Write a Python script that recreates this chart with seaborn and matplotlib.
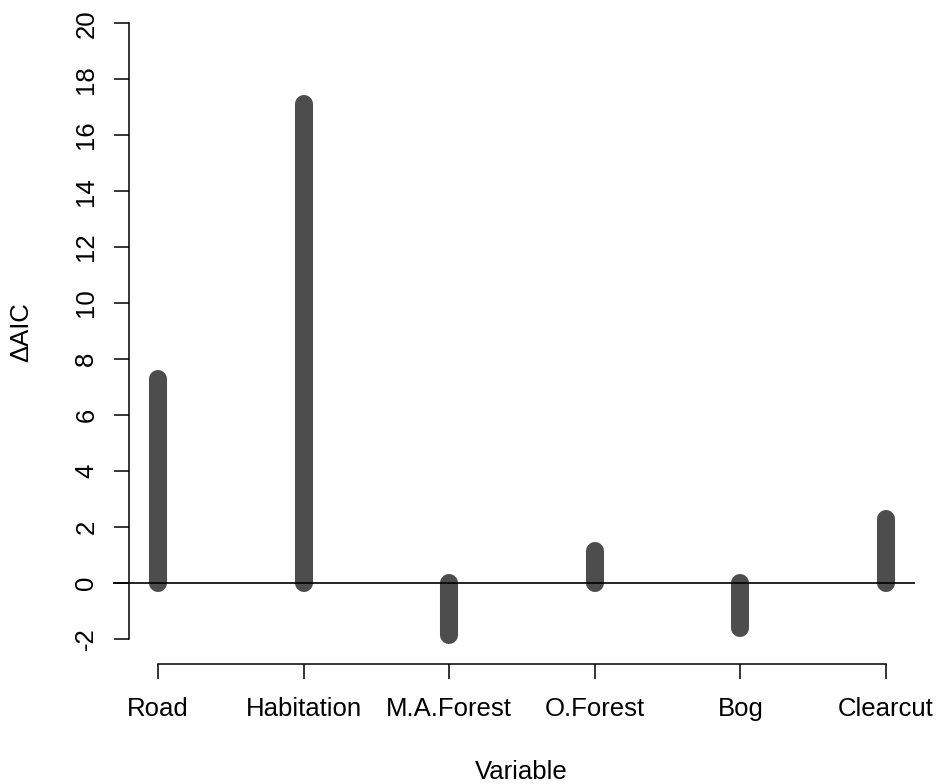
import matplotlib
matplotlib.use("Agg")
import matplotlib.pyplot as plt
import seaborn as sns
import pandas as pd

categories = ["Road", "Habitation", "M.A.Forest", "O.Forest", "Bog", "Clearcut"]
delta_aic = [7.3, 17.1, -1.85, 1.15, -1.6, 2.3]
y_ticks = [-2, 0, 2, 4, 6, 8, 10, 12, 14, 16, 18, 20]

sns.set_style("white")
plt.rcParams['font.family'] = ['Liberation Sans', 'DejaVu Sans']
plt.rcParams['axes.unicode_minus'] = False
plt.rcParams['text.color'] = 'black'
plt.rcParams['axes.labelcolor'] = 'black'

# long-form data: each variable is a vertical segment from 0 to its value
rows = []
for i, (c, v) in enumerate(zip(categories, delta_aic)):
    rows.append({"var": c, "pos": i + 1, "val": 0.0})
    rows.append({"var": c, "pos": i + 1, "val": v})
df = pd.DataFrame(rows)

fig = plt.figure(figsize=(9.38, 7.84), dpi=100)
ax = fig.add_axes([113/938, 1 - 664/784, (915 - 113)/938, 664/784])

sns.lineplot(data=df, x="pos", y="val", units="var", estimator=None,
             color="#4D4D4D", lw=13, solid_capstyle="round", ax=ax,
             legend=False, sort=False)
ax.axhline(0, color="black", lw=1.2, zorder=5)

ax.set_xlim(0.691, 6.199)
ax.set_ylim(-2.894, 20.83)

for s in ["top", "right"]:
    ax.spines[s].set_visible(False)
ax.spines["left"].set_position(("data", 0.80))
ax.spines["left"].set_bounds(-2, 20)
ax.spines["bottom"].set_bounds(1, 6)
for s in ["left", "bottom"]:
    ax.spines[s].set_color("black")
    ax.spines[s].set_linewidth(1.1)

ax.set_xticks(range(1, len(categories) + 1))
ax.set_xticklabels(categories)
ax.set_yticks(y_ticks)
ax.set_yticklabels([str(t) for t in y_ticks], rotation=90, va="center")

ax.tick_params(axis="both", direction="out", length=11, width=1.1,
               colors="black", labelcolor="black", labelsize=18.5)
ax.tick_params(axis="y", pad=11)
ax.tick_params(axis="x", pad=13)
ax.tick_params(axis="both", left=True, bottom=True)

ax.set_xlabel("Variable", fontsize=18.5, color="black")
ax.set_ylabel("\u0394AIC", fontsize=18.5, color="black")
ax.xaxis.set_label_coords(0.5087, -0.1446)
ax.yaxis.set_label_coords(-0.0998, 0.5)

fig.savefig("out.png", dpi=100, facecolor="white")
